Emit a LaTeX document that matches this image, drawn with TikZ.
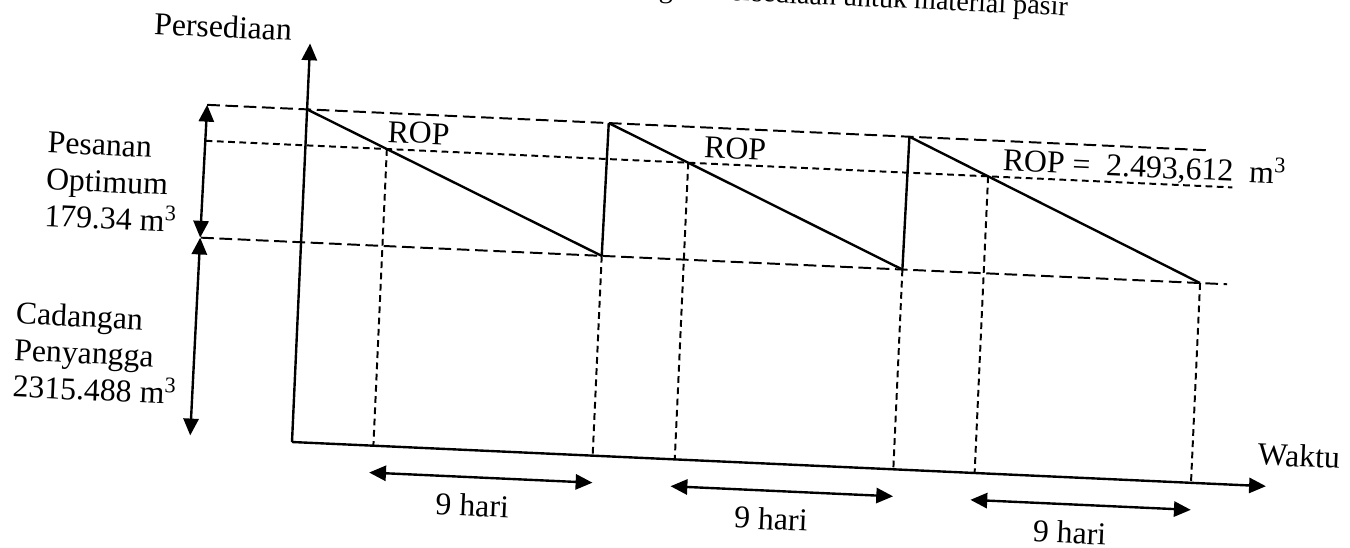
\documentclass[tikz,border=0pt]{standalone}
\usepackage{fontspec}
\setmainfont{Liberation Serif}
\usetikzlibrary{arrows.meta,positioning}

\begin{document}
\begin{tikzpicture}[
  x=0.125mm, y=-0.125mm,
  >={Triangle[length=2.1mm, width=1.9mm]},
  ax/.style  = {line width=0.85pt},
  lvl/.style = {line width=0.7pt, dash pattern=on 4.5pt off 2pt},
  rop/.style = {line width=0.7pt, dash pattern=on 2.4pt off 1.6pt},
  lbl/.style = {font=\fontsize{11.3}{13}\selectfont, inner sep=0pt},
  ttl/.style = {font=\fontsize{10}{12}\selectfont, inner sep=0pt},
]
\useasboundingbox[fill=white] (0,0) rectangle (1350,548);

\begin{scope}[shift={(292,442)}, rotate=-2.6, transform shape]

%% ---- title (cut off at the top) ------------------------------------------
\node[ttl, anchor=base east] (judul) at (756,-461)
  {Grafik Tingkat Persediaan untuk material pasir};

%% ---- axes ----------------------------------------------------------------
\coordinate (O) at (0,0);
\coordinate (ytip) at (0,-399);
\coordinate (xtip) at (975,0);
\draw[ax, ->] (O) -- (ytip);
\draw[ax, ->] (O) -- (xtip);
\node[lbl, anchor=base west] (persediaan) at (-157,-401) {Persediaan};
\node[lbl, anchor=base west] (waktu) at (965,-21) {Waktu};

%% ---- level lines ---------------------------------------------------------
\coordinate (topL) at (-100,-333); \coordinate (topR) at (904,-333);
\coordinate (ropL) at (-100,-297); \coordinate (ropR) at (928,-297);
\coordinate (safL) at (-100,-200); \coordinate (safR) at (927,-200);
\draw[lvl] (topL) -- (topR);
\draw[rop] (ropL) -- (ropR);
\draw[lvl] (safL) -- (safR);

%% ---- saw tooth -----------------------------------------------------------
\foreach \s/\e [count=\i] in {0/301, 302/602, 603/900} {
  \coordinate (hi\i)  at (\s,-333);
  \coordinate (lo\i)  at (\e,-200);
  \coordinate (rp\i)  at ({\s+(\e-\s)*36/133},-297);
  \coordinate (rpx\i) at ({\s+(\e-\s)*36/133},0);
  \coordinate (lox\i) at (\e,0);
  \coordinate (ha\i)  at ({\s+(\e-\s)*36/133-3},27);
  \coordinate (hb\i)  at (\e+1,27);
  \draw[ax] (hi\i) -- (lo\i);
  \draw[rop] (rp\i) -- (rpx\i);
  \draw[rop] (lo\i) -- (lox\i);
  \draw[ax, <->] (ha\i) -- (hb\i);
}
\draw[ax] (lo1) -- (hi2);
\draw[ax] (lo2) -- (hi3);

\foreach \s [count=\i] in {0,299,598}
  \node[lbl] (hari\i) at (\s+183,55) {9 hari};

\node[lbl, anchor=base west] (rop1) at (81,-304) {ROP};
\node[lbl, anchor=base west] (rop2) at (398,-303) {ROP};
\node[lbl, anchor=base west] (rop3) at (697,-303)
  {ROP = \ 2.493,612 \ m\textsuperscript{3}};

%% ---- left dimensions -----------------------------------------------------
\coordinate (dimT) at (-100,-333);
\coordinate (dimM) at (-101,-200);
\coordinate (dimB) at (-102,-2);
\draw[ax, <->] (dimT) -- (dimM);
\draw[ax, <->] (dimM) -- (dimB);
\node[lbl, align=left, anchor=north west] (pesanan) at (-258,-299)
  {Pesanan\\Optimum\\179.34 m\textsuperscript{3}};
\node[lbl, align=left, anchor=north west] (cadangan) at (-282,-128)
  {Cadangan\\Penyangga\\2315.488 m\textsuperscript{3}};

\end{scope}
\end{tikzpicture}
\end{document}
